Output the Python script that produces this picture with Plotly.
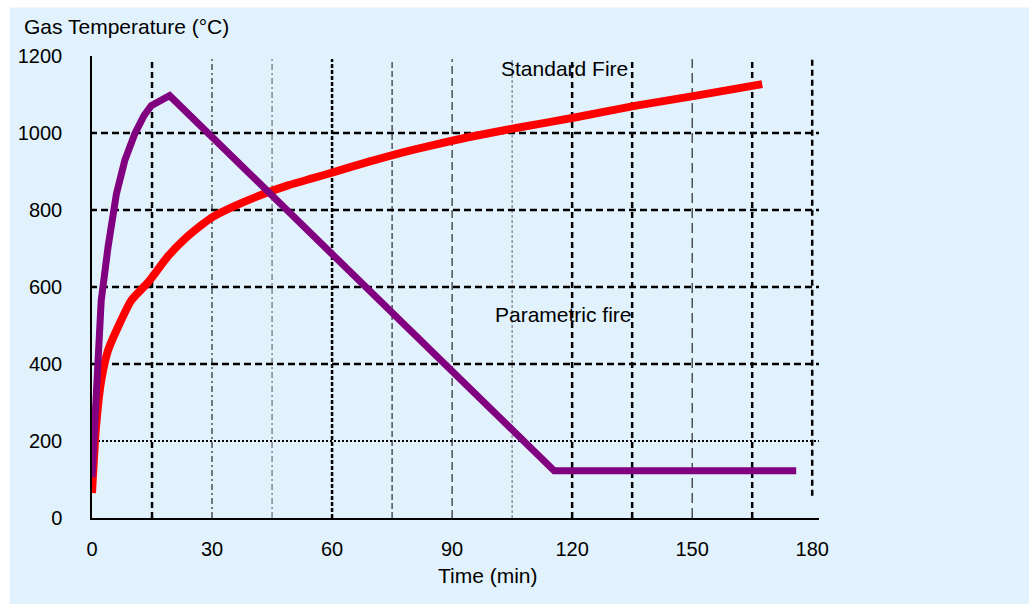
import plotly.graph_objects as go

# ---- data ----
std_t = [0, 1, 2.3, 4, 6.5, 9.8, 14, 19, 23, 27, 30, 36, 43, 49, 55, 60, 69, 77, 85, 94, 106, 121, 136, 151, 167.5]
std_T = [65, 236, 357, 435, 496, 565, 612, 680, 723, 758, 781, 812, 842, 864, 882, 897, 925, 948, 968, 989, 1013, 1041, 1071, 1097, 1127]

par_t = [0, 1.1, 2.3, 4, 6.1, 8.2, 10.7, 13, 14.8, 19.4, 115.5, 176]
par_T = [106, 323, 565, 703, 842, 929, 998, 1045, 1071, 1097, 123, 123]

x_ticks = [0, 30, 60, 90, 120, 150, 180]
y_ticks = [0, 200, 400, 600, 800, 1000, 1200]
v_grid = [15, 30, 45, 60, 75, 90, 105, 120, 135, 150, 165, 180]
h_grid = [200, 400, 600, 800, 1000]

# ---- styles ----
BG = "#e2f2fd"
FONT = "Liberation Sans, Arial, sans-serif"
X_MAX = 181.7

v_styles = {
    15: (2.5, "6px,4px", "black"), 30: (1, "6px,3px,2px,3px", "black"),
    45: (1, "6px,3px,2px,3px", "#555"), 60: (2.5, "4px,2px", "black"),
    75: (1, "6px,3px", "black"), 90: (1, "8px,4px", "black"),
    105: (1, "3px,2px", "#666"), 120: (2.5, "6px,4px", "black"),
    135: (2.5, "6px,4px", "black"), 150: (1, "10px,5px", "black"),
    165: (2.5, "6px,4px", "black"), 180: (2.5, "6px,4px", "black"),
}

shapes = [
    dict(type="rect", xref="paper", yref="paper", x0=-0.1133, x1=1.30, y0=-0.20, y1=1.105,
         fillcolor=BG, line=dict(width=0), layer="below"),
]
for v in v_grid:
    w, d, c = v_styles[v]
    y1 = 1192
    y0 = 58 if v == 180 else 0
    shapes.append(dict(type="line", xref="x", yref="y", x0=v, x1=v, y0=y0, y1=y1,
                       line=dict(color=c, width=w, dash=d), layer="below"))
for h in h_grid:
    if h == 200:
        ln = dict(color="black", width=1.8, dash="2px,2px")
    else:
        ln = dict(color="black", width=2.5, dash="7px,4px")
    shapes.append(dict(type="line", xref="x", yref="y", x0=-0.5, x1=X_MAX, y0=h, y1=h,
                       line=ln, layer="below"))

fig = go.Figure()
fig.add_trace(go.Scatter(x=std_t, y=std_T, mode="lines", name="Standard Fire",
                         line=dict(color="#ff0000", width=8, shape="spline", smoothing=0.6),
                         showlegend=False))
fig.add_trace(go.Scatter(x=par_t, y=par_T, mode="lines", name="Parametric fire",
                         line=dict(color="#800080", width=7),
                         showlegend=False))

fig.update_layout(
    width=1029, height=604,
    margin=dict(l=92, r=210, t=56, b=86, pad=0),
    paper_bgcolor="white", plot_bgcolor="rgba(0,0,0,0)",
    font=dict(family=FONT, size=20, color="black"),
    shapes=shapes,
    xaxis=dict(range=[0, X_MAX], tickvals=x_ticks, ticktext=[str(v) for v in x_ticks],
               showgrid=False, zeroline=False, showline=True, linecolor="black", linewidth=1.5,
               ticks="", ticklabelstandoff=12, fixedrange=True),
    yaxis=dict(range=[0, 1200], tickvals=y_ticks, ticktext=[str(v) for v in y_ticks],
               showgrid=False, zeroline=False, showline=True, linecolor="black", linewidth=1.5,
               ticks="", ticklabelstandoff=24, fixedrange=True),
    annotations=[
        dict(text="Gas Temperature (°C)", xref="paper", yref="paper", x=-0.0967, y=1.064,
             xanchor="left", yanchor="middle", showarrow=False, font=dict(size=21)),
        dict(text="Time (min)", xref="paper", yref="paper", x=0.5445, y=-0.1245,
             xanchor="center", yanchor="middle", showarrow=False, font=dict(size=21)),
        dict(text="Standard Fire", xref="x", yref="y", x=101.7, y=1167,
             xanchor="left", yanchor="middle", showarrow=False, font=dict(size=21)),
        dict(text="Parametric fire", xref="x", yref="y", x=100.2, y=528,
             xanchor="left", yanchor="middle", showarrow=False, font=dict(size=21)),
    ],
)

fig.write_html("out.html", config={"displayModeBar": False},
               post_script="document.body.style.margin='0';")
